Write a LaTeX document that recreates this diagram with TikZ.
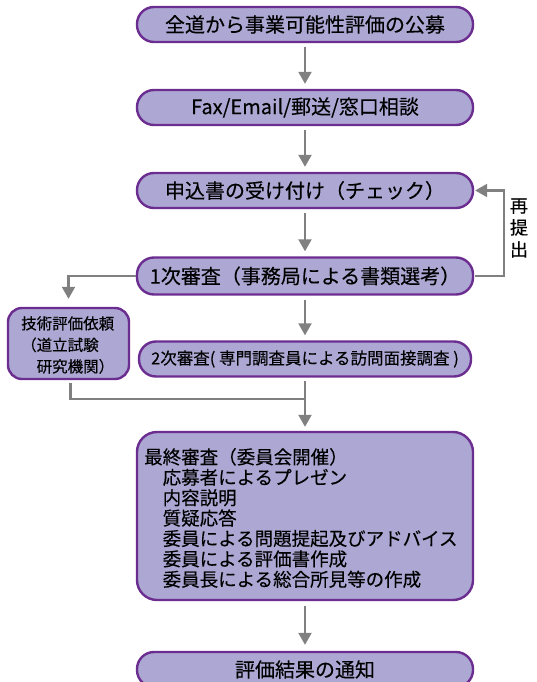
\documentclass[tikz,border=0pt]{standalone}
\usepackage{fontspec}
\setmainfont{Noto Sans CJK JP}[FakeBold=0.3]
\usetikzlibrary{arrows.meta}
\definecolor{boxfill}{RGB}{173,168,211}
\definecolor{boxline}{RGB}{107,45,144}
\definecolor{arrgray}{RGB}{128,128,128}
\begin{document}
\begin{tikzpicture}[x=1pt,y=-1pt,
  pill/.style={draw=boxline, line width=2.4pt, fill=boxfill, rounded corners=17pt,
    minimum width=336pt, minimum height=35pt, inner sep=0pt,
    font=\fontsize{20pt}{23pt}\selectfont},
  sidebox/.style={draw=boxline, line width=2.4pt, fill=boxfill, rounded corners=14pt,
    minimum width=121pt, minimum height=71pt, inner sep=0pt},
  bigbox/.style={draw=boxline, line width=2.4pt, fill=boxfill, rounded corners=20pt,
    minimum width=336pt, minimum height=168pt, inner sep=0pt},
  conn/.style={draw=arrgray, line width=2.2pt, -{Triangle[width=13pt,length=12pt]}},
  plainline/.style={draw=arrgray, line width=2.2pt},
  lbl/.style={inner sep=0pt, text=black}]
\path[use as bounding box, clip] (0,0) rectangle (536,682);

\node[pill] (b1) at (305,24.5) {全道から事業可能性評価の公募};
\node[pill] (b2) at (305,107.5) {Fax/Email/郵送/窓口相談};
\node[pill] (b3) at (305,190.5) {申込書の受け付け（チェック）};
\node[pill, minimum height=37pt] (b4) at (305,276) {1次審査（事務局による書類選考）};
\node[pill, minimum width=332pt, font=\fontsize{16.5pt}{20pt}\selectfont] (b5) at (305,359) {2次審査( 専門調査員による訪問面接調査 )};
\node[sidebox] (lb) at (68.5,343.5) {};
\node[lbl, anchor=west, align=left, font=\fontsize{15.5pt}{21.5pt}\selectfont] (lbt) at (21,345) {技術評価依頼\\（道立試験\\\hspace*{1em}研究機関）};
\node[bigbox] (b6) at (305,516) {};
\node[lbl, anchor=west, align=left, font=\fontsize{18.5pt}{20.4pt}\selectfont] (b6t) at (144,518) {最終審査（委員会開催）\\\hspace*{1em}応募者によるプレゼン\\\hspace*{1em}内容説明\\\hspace*{1em}質疑応答\\\hspace*{1em}委員による問題提起及びアドバイス\\\hspace*{1em}委員による評価書作成\\\hspace*{1em}委員長による総合所見等の作成};
\node[pill] (b7) at (305,669.5) {評価結果の通知};
\node[lbl, align=center, font=\fontsize{18pt}{22pt}\selectfont] (re) at (519,228) {再\\提\\出};

\draw[conn, shorten <=4pt, shorten >=5pt] (b1) -- (b2);
\draw[conn, shorten <=4pt, shorten >=5pt] (b2) -- (b3);
\draw[conn, shorten <=4pt, shorten >=5pt] (b3) -- (b4);
\draw[conn, shorten <=4pt, shorten >=5pt] (b4) -- (b5);
\draw[conn, shorten <=1pt, shorten >=1pt] (b4.east) -- ++(30,0) |- (b3.east);
\draw[conn, shorten >=8pt] (b4.west) -| (lb.north);
\coordinate (merge) at (305,399);
\draw[plainline, shorten <=3pt] ([xshift=2pt]lb.south) |- (merge);
\draw[conn, shorten <=3pt, shorten >=4pt] (b5) -- (b6);
\draw[conn, shorten <=5pt, shorten >=6pt] (b6) -- (b7);
\end{tikzpicture}
\end{document}
